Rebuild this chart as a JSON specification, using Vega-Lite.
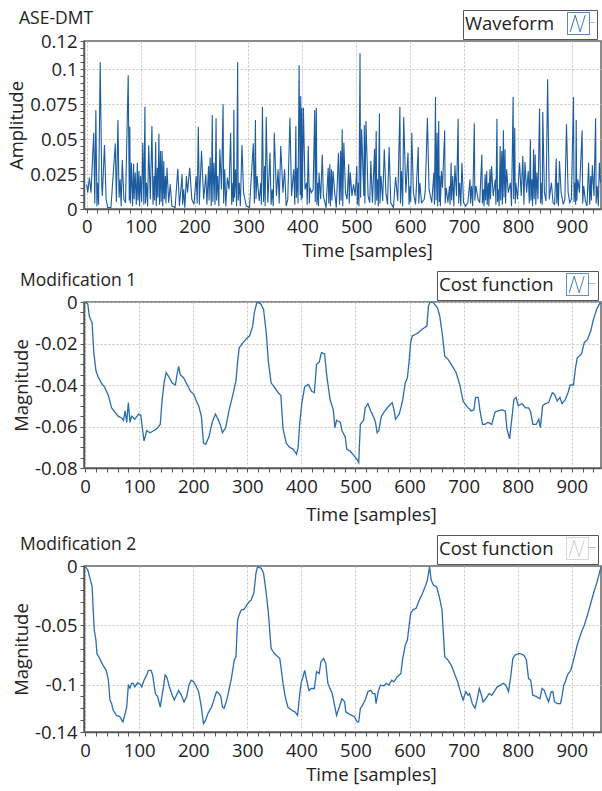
{
  "$schema": "https://vega.github.io/schema/vega-lite/v6.json",
  "padding": {"left": 6, "top": 8, "right": 0, "bottom": 0},
  "background": "white",
  "spacing": 8,
  "config": {
    "font": "Open Sans",
    "view": {"stroke": "#666", "strokeWidth": 1.5},
    "title": {"font": "Open Sans", "fontSize": 17.5, "fontWeight": "normal", "color": "#222", "anchor": "start", "frame": "bounds"},
    "axis": {"labelFont": "Open Sans", "labelFontSize": 18.5, "labelColor": "#222", "titleFont": "Open Sans", "titleFontSize": 18.5, "titleFontWeight": "normal", "titleColor": "#222", "domainColor": "#555", "domainWidth": 1.5, "tickColor": "#555", "tickSize": 4, "gridColor": "#c4c4c4", "gridDash": [2, 2], "labelOverlap": false, "labelBound": false, "labelFlush": false},
    "legend": {"titleFont": "Open Sans", "titleFontSize": 18.5, "titleFontWeight": "normal", "titleColor": "#222", "strokeColor": "#555", "fillColor": "white", "padding": 2, "cornerRadius": 0, "titleOrient": "left", "titlePadding": 12, "labelExpr": "''", "labelOffset": 0, "labelFontSize": 1, "symbolSize": 484, "symbolStrokeWidth": 1, "symbolFillColor": "transparent", "symbolType": "M-1,-1H1V1H-1Z M-0.75,0.75L-0.3,-0.75L0.15,0.75L0.6,-0.75"}
  },
  "datasets": {
    "wave": [
      {"t":0,"v":0.0176},{"t":2,"v":0.0117},{"t":5,"v":0.0224},{"t":8,"v":0.0117},{"t":13,"v":0.0545},{"t":15,"v":0.004},{"t":17,"v":0.0707},{"t":19,"v":0.002},{"t":20,"v":0.0188},{"t":22,"v":0.003},{"t":25,"v":0.105},{"t":28,"v":0.0164},{"t":29,"v":0.0093},{"t":33,"v":0.0457},{"t":36,"v":0.0069},{"t":39,"v":0.001},{"t":45,"v":0.001},{"t":53,"v":0.0467},{"t":55,"v":0.005},{"t":58,"v":0.0636},{"t":60,"v":0.008},{"t":62,"v":0.0212},{"t":64,"v":0.002},{"t":66,"v":0.035},{"t":69,"v":0.0069},{"t":72,"v":0.0045},{"t":77,"v":0.0955},{"t":79,"v":0.006},{"t":80,"v":0.0588},{"t":81,"v":0.004},{"t":83,"v":0.0331},{"t":85,"v":0.002},{"t":87,"v":0.0324},{"t":88,"v":0.007},{"t":90,"v":0.026},{"t":92,"v":0.003},{"t":94,"v":0.0331},{"t":95,"v":0.006},{"t":97,"v":0.0271},{"t":98,"v":0.002},{"t":100,"v":0.0236},{"t":102,"v":0.005},{"t":104,"v":0.0474},{"t":106,"v":0.003},{"t":108,"v":0.0731},{"t":109,"v":0.004},{"t":111,"v":0.0188},{"t":113,"v":0.002},{"t":115,"v":0.0455},{"t":118,"v":0.0069},{"t":121,"v":0.0593},{"t":123,"v":0.003},{"t":125,"v":0.0236},{"t":126,"v":0.006},{"t":128,"v":0.0479},{"t":129,"v":0.002},{"t":131,"v":0.0295},{"t":132,"v":0.008},{"t":134,"v":0.0538},{"t":135,"v":0.003},{"t":137,"v":0.0414},{"t":138,"v":0.005},{"t":140,"v":0.0414},{"t":141,"v":0.002},{"t":143,"v":0.0343},{"t":144,"v":0.007},{"t":146,"v":0.0236},{"t":147,"v":0.004},{"t":149,"v":0.0295},{"t":152,"v":0.0045},{"t":155,"v":0.0176},{"t":158,"v":0.0021},{"t":164,"v":0.001},{"t":169,"v":0.0288},{"t":172,"v":0.0021},{"t":177,"v":0.0248},{"t":178,"v":0.003},{"t":180,"v":0.014},{"t":182,"v":0.001},{"t":185,"v":0.0236},{"t":187,"v":0.0117},{"t":191,"v":0.0295},{"t":195,"v":0.0069},{"t":199,"v":0.0033},{"t":203,"v":0.0236},{"t":205,"v":0.004},{"t":207,"v":0.0588},{"t":209,"v":0.003},{"t":210,"v":0.014},{"t":213,"v":0.0414},{"t":217,"v":0.0069},{"t":221,"v":0.0248},{"t":223,"v":0.003},{"t":226,"v":0.0307},{"t":227,"v":0.006},{"t":229,"v":0.0367},{"t":231,"v":0.002},{"t":233,"v":0.0671},{"t":234,"v":0.005},{"t":236,"v":0.0331},{"t":238,"v":0.003},{"t":240,"v":0.0648},{"t":241,"v":0.006},{"t":243,"v":0.0236},{"t":245,"v":0.002},{"t":247,"v":0.0426},{"t":250,"v":0.014},{"t":253,"v":0.0748},{"t":254,"v":0.004},{"t":256,"v":0.0283},{"t":258,"v":0.002},{"t":261,"v":0.0224},{"t":264,"v":0.014},{"t":267,"v":0.0545},{"t":269,"v":0.003},{"t":271,"v":0.0188},{"t":272,"v":0.005},{"t":273,"v":0.0707},{"t":274,"v":0.008},{"t":276,"v":0.0283},{"t":278,"v":0.002},{"t":280,"v":0.105},{"t":281,"v":0.006},{"t":283,"v":0.0188},{"t":285,"v":0.002},{"t":288,"v":0.0457},{"t":291,"v":0.0117},{"t":296,"v":0.0021},{"t":302,"v":0.001},{"t":309,"v":0.0469},{"t":311,"v":0.004},{"t":313,"v":0.0636},{"t":314,"v":0.007},{"t":316,"v":0.0236},{"t":320,"v":0.0057},{"t":323,"v":0.0188},{"t":324,"v":0.003},{"t":326,"v":0.0731},{"t":328,"v":0.005},{"t":330,"v":0.0307},{"t":331,"v":0.002},{"t":333,"v":0.0657},{"t":336,"v":0.0045},{"t":340,"v":0.0402},{"t":342,"v":0.003},{"t":344,"v":0.014},{"t":346,"v":0.002},{"t":348,"v":0.0545},{"t":352,"v":0.0093},{"t":355,"v":0.0283},{"t":357,"v":0.004},{"t":360,"v":0.045},{"t":364,"v":0.0117},{"t":367,"v":0.0283},{"t":370,"v":0.0021},{"t":373,"v":0.0069},{"t":377,"v":0.0652},{"t":380,"v":0.0093},{"t":384,"v":0.0283},{"t":386,"v":0.003},{"t":388,"v":0.0593},{"t":389,"v":0.008},{"t":391,"v":0.0295},{"t":392,"v":0.004},{"t":394,"v":0.1026},{"t":396,"v":0.01},{"t":397,"v":0.0807},{"t":398,"v":0.006},{"t":399,"v":0.0724},{"t":400,"v":0.008},{"t":402,"v":0.0724},{"t":405,"v":0.014},{"t":408,"v":0.0188},{"t":409,"v":0.003},{"t":411,"v":0.045},{"t":413,"v":0.004},{"t":414,"v":0.0152},{"t":417,"v":0.0117},{"t":420,"v":0.014},{"t":423,"v":0.0707},{"t":424,"v":0.005},{"t":426,"v":0.0724},{"t":427,"v":0.003},{"t":429,"v":0.0188},{"t":430,"v":0.002},{"t":431,"v":0.026},{"t":434,"v":0.0069},{"t":437,"v":0.039},{"t":439,"v":0.0093},{"t":444,"v":0.001},{"t":448,"v":0.0295},{"t":449,"v":0.004},{"t":451,"v":0.0319},{"t":452,"v":0.002},{"t":454,"v":0.0283},{"t":455,"v":0.006},{"t":457,"v":0.0271},{"t":460,"v":0.0117},{"t":463,"v":0.001},
      {"t":467,"v":0.0402},{"t":469,"v":0.003},{"t":471,"v":0.0414},{"t":472,"v":0.006},{"t":474,"v":0.0569},{"t":475,"v":0.002},{"t":477,"v":0.0474},{"t":480,"v":0.0117},{"t":483,"v":0.0069},{"t":486,"v":0.0319},{"t":487,"v":0.004},{"t":489,"v":0.026},{"t":492,"v":0.0093},{"t":495,"v":0.0176},{"t":498,"v":0.0093},{"t":501,"v":0.0307},{"t":502,"v":0.003},{"t":504,"v":0.0188},{"t":505,"v":0.002},{"t":507,"v":0.1112},{"t":508,"v":0.008},{"t":510,"v":0.0569},{"t":514,"v":0.0093},{"t":515,"v":0.0598},{"t":516,"v":0.004},{"t":518,"v":0.0629},{"t":522,"v":0.0093},{"t":525,"v":0.0045},{"t":527,"v":0.0343},{"t":530,"v":0.0045},{"t":534,"v":0.0431},{"t":535,"v":0.003},{"t":537,"v":0.0557},{"t":538,"v":0.006},{"t":540,"v":0.0212},{"t":541,"v":0.002},{"t":543,"v":0.0683},{"t":544,"v":0.004},{"t":546,"v":0.0236},{"t":549,"v":0.0057},{"t":552,"v":0.0426},{"t":555,"v":0.0117},{"t":558,"v":0.0033},{"t":561,"v":0.0443},{"t":564,"v":0.0045},{"t":569,"v":0.001},{"t":573,"v":0.0229},{"t":577,"v":0.0057},{"t":581,"v":0.0731},{"t":582,"v":0.004},{"t":584,"v":0.0271},{"t":586,"v":0.002},{"t":588,"v":0.0657},{"t":592,"v":0.0117},{"t":596,"v":0.0402},{"t":598,"v":0.003},{"t":600,"v":0.0164},{"t":601,"v":0.005},{"t":603,"v":0.0545},{"t":606,"v":0.0117},{"t":610,"v":0.0033},{"t":615,"v":0.0443},{"t":616,"v":0.004},{"t":618,"v":0.0188},{"t":621,"v":0.0045},{"t":626,"v":0.0069},{"t":628,"v":0.0129},{"t":632,"v":0.0652},{"t":635,"v":0.014},{"t":640,"v":0.0045},{"t":644,"v":0.026},{"t":645,"v":0.003},{"t":647,"v":0.08},{"t":648,"v":0.006},{"t":650,"v":0.0545},{"t":651,"v":0.002},{"t":653,"v":0.0629},{"t":654,"v":0.005},{"t":655,"v":0.0236},{"t":656,"v":0.002},{"t":658,"v":0.0271},{"t":660,"v":0.0152},{"t":664,"v":0.0562},{"t":665,"v":0.004},{"t":667,"v":0.0152},{"t":670,"v":0.0045},{"t":673,"v":0.0164},{"t":674,"v":0.003},{"t":676,"v":0.0331},{"t":677,"v":0.006},{"t":679,"v":0.0236},{"t":681,"v":0.002},{"t":683,"v":0.0312},{"t":686,"v":0.0093},{"t":689,"v":0.0645},{"t":690,"v":0.004},{"t":692,"v":0.0188},{"t":694,"v":0.002},{"t":696,"v":0.0331},{"t":699,"v":0.0045},{"t":703,"v":0.0021},{"t":707,"v":0.0045},{"t":711,"v":0.0212},{"t":712,"v":0.004},{"t":714,"v":0.0164},{"t":716,"v":0.002},{"t":719,"v":0.0612},{"t":720,"v":0.006},{"t":722,"v":0.0164},{"t":726,"v":0.0069},{"t":729,"v":0.0045},{"t":733,"v":0.039},{"t":734,"v":0.004},{"t":736,"v":0.014},{"t":737,"v":0.002},{"t":739,"v":0.0248},{"t":740,"v":0.006},{"t":742,"v":0.0271},{"t":743,"v":0.003},{"t":745,"v":0.0188},{"t":746,"v":0.002},{"t":748,"v":0.0283},{"t":749,"v":0.007},{"t":751,"v":0.0307},{"t":754,"v":0.0093},{"t":758,"v":0.0212},{"t":759,"v":0.003},{"t":761,"v":0.0645},{"t":762,"v":0.005},{"t":764,"v":0.014},{"t":765,"v":0.002},{"t":767,"v":0.045},{"t":768,"v":0.006},{"t":770,"v":0.0414},{"t":771,"v":0.003},{"t":773,"v":0.0562},{"t":774,"v":0.008},{"t":776,"v":0.0426},{"t":777,"v":0.004},{"t":779,"v":0.0283},{"t":782,"v":0.0117},{"t":786,"v":0.0188},{"t":788,"v":0.002},{"t":791,"v":0.08},{"t":792,"v":0.007},{"t":794,"v":0.0581},{"t":795,"v":0.004},{"t":796,"v":0.0188},{"t":799,"v":0.0069},{"t":803,"v":0.0331},{"t":806,"v":0.0093},{"t":809,"v":0.0379},{"t":811,"v":0.003},{"t":813,"v":0.0336},{"t":816,"v":0.0117},{"t":819,"v":0.0271},{"t":821,"v":0.004},{"t":823,"v":0.0498},{"t":824,"v":0.006},{"t":826,"v":0.0212},{"t":827,"v":0.002},{"t":829,"v":0.0426},{"t":830,"v":0.007},{"t":832,"v":0.039},{"t":833,"v":0.003},{"t":835,"v":0.026},{"t":837,"v":0.0069},{"t":840,"v":0.0717},{"t":842,"v":0.004},{"t":844,"v":0.0188},{"t":845,"v":0.003},{"t":846,"v":0.0693},{"t":849,"v":0.0117},{"t":852,"v":0.0057},{"t":855,"v":0.0926},{"t":858,"v":0.0069},{"t":862,"v":0.0188},{"t":865,"v":0.0045},{"t":868,"v":0.0033},{"t":871,"v":0.036},{"t":872,"v":0.004},{"t":874,"v":0.0188},{"t":875,"v":0.002},{"t":877,"v":0.0343},{"t":880,"v":0.0117},{"t":884,"v":0.0033},{"t":887,"v":0.0069},{"t":890,"v":0.0605},{"t":893,"v":0.0117},{"t":896,"v":0.0045},{"t":899,"v":0.0069},{"t":903,"v":0.08},{"t":904,"v":0.005},{"t":906,"v":0.0188},{"t":907,"v":0.003},{"t":908,"v":0.0636},{"t":909,"v":0.006},{"t":911,"v":0.0212},{"t":914,"v":0.0117},{"t":919,"v":0.0562},{"t":920,"v":0.004},{"t":922,"v":0.0164},{"t":925,"v":0.0057},{"t":928,"v":0.0021},{"t":931,"v":0.0331},{"t":933,"v":0.003},{"t":935,"v":0.0236},{"t":936,"v":0.006},{"t":938,"v":0.0312},{"t":941,"v":0.0093},{"t":944,"v":0.0648},{"t":945,"v":0.004},{"t":947,"v":0.0164},{"t":949,"v":0.002},{"t":951,"v":0.0331},{"t":953,"v":0.0188}
    ],
    "mod1": [
      {"t":0,"v":0},{"t":5,"v":-0.001},{"t":8,"v":-0.007},{"t":13,"v":-0.01},{"t":16,"v":-0.024},{"t":20,"v":-0.033},{"t":24,"v":-0.036},{"t":30,"v":-0.039},{"t":36,"v":-0.041},{"t":43,"v":-0.045},{"t":49,"v":-0.051},{"t":55,"v":-0.053},{"t":61,"v":-0.055},{"t":68,"v":-0.056},{"t":71,"v":-0.057},{"t":74,"v":-0.0525},{"t":77,"v":-0.058},{"t":80,"v":-0.0485},{"t":83,"v":-0.058},{"t":86,"v":-0.055},{"t":92,"v":-0.0565},{"t":99,"v":-0.054},{"t":103,"v":-0.0546},{"t":107,"v":-0.063},{"t":109,"v":-0.067},{"t":114,"v":-0.062},{"t":120,"v":-0.063},{"t":127,"v":-0.062},{"t":133,"v":-0.061},{"t":139,"v":-0.059},{"t":142,"v":-0.0485},{"t":146,"v":-0.039},{"t":150,"v":-0.034},{"t":154,"v":-0.0357},{"t":161,"v":-0.039},{"t":167,"v":-0.04},{"t":170,"v":-0.035},{"t":173,"v":-0.031},{"t":176,"v":-0.035},{"t":182,"v":-0.0365},{"t":189,"v":-0.04},{"t":195,"v":-0.043},{"t":201,"v":-0.0445},{"t":207,"v":-0.0485},{"t":210,"v":-0.05},{"t":215,"v":-0.055},{"t":219,"v":-0.068},{"t":223,"v":-0.0686},{"t":229,"v":-0.065},{"t":235,"v":-0.058},{"t":241,"v":-0.054},{"t":246,"v":-0.0565},{"t":251,"v":-0.06},{"t":254,"v":-0.063},{"t":260,"v":-0.0605},{"t":266,"v":-0.0525},{"t":273,"v":-0.045},{"t":279,"v":-0.038},{"t":282,"v":-0.029},{"t":285,"v":-0.022},{"t":291,"v":-0.02},{"t":297,"v":-0.018},{"t":304,"v":-0.0164},{"t":310,"v":-0.0116},{"t":313,"v":-0.005},{"t":318,"v":0},{"t":325,"v":-0.001},{"t":330,"v":-0.0035},{"t":335,"v":-0.0148},{"t":339,"v":-0.029},{"t":344,"v":-0.039},{"t":350,"v":-0.041},{"t":357,"v":-0.0437},{"t":362,"v":-0.045},{"t":366,"v":-0.061},{"t":372,"v":-0.068},{"t":378,"v":-0.07},{"t":385,"v":-0.071},{"t":391,"v":-0.0734},{"t":394,"v":-0.07},{"t":397,"v":-0.058},{"t":401,"v":-0.0485},{"t":406,"v":-0.041},{"t":413,"v":-0.0397},{"t":419,"v":-0.043},{"t":424,"v":-0.0437},{"t":428,"v":-0.03},{"t":433,"v":-0.029},{"t":437,"v":-0.0244},{"t":443,"v":-0.025},{"t":447,"v":-0.0357},{"t":453,"v":-0.047},{"t":459,"v":-0.052},{"t":462,"v":-0.0606},{"t":465,"v":-0.057},{"t":472,"v":-0.058},
      {"t":475,"v":-0.062},{"t":481,"v":-0.065},{"t":484,"v":-0.071},{"t":490,"v":-0.0718},{"t":497,"v":-0.074},{"t":503,"v":-0.076},{"t":506,"v":-0.0774},{"t":509,"v":-0.059},{"t":515,"v":-0.057},{"t":518,"v":-0.051},{"t":523,"v":-0.049},{"t":528,"v":-0.0525},{"t":534,"v":-0.0557},{"t":537,"v":-0.058},{"t":540,"v":-0.063},{"t":543,"v":-0.062},{"t":548,"v":-0.055},{"t":553,"v":-0.053},{"t":562,"v":-0.05},{"t":568,"v":-0.0485},{"t":571,"v":-0.0517},{"t":574,"v":-0.0565},{"t":581,"v":-0.054},{"t":587,"v":-0.0477},{"t":592,"v":-0.039},{"t":596,"v":-0.0365},{"t":599,"v":-0.029},{"t":602,"v":-0.0196},{"t":605,"v":-0.0164},{"t":615,"v":-0.015},{"t":624,"v":-0.013},{"t":632,"v":-0.0116},{"t":635,"v":-0.002},{"t":638,"v":0},{"t":643,"v":0},{"t":652,"v":-0.003},{"t":656,"v":-0.007},{"t":661,"v":-0.0164},{"t":665,"v":-0.026},{"t":671,"v":-0.0276},{"t":677,"v":-0.03},{"t":686,"v":-0.034},{"t":693,"v":-0.04},{"t":699,"v":-0.0477},{"t":705,"v":-0.05},{"t":714,"v":-0.0525},{"t":719,"v":-0.052},{"t":722,"v":-0.046},{"t":727,"v":-0.046},{"t":730,"v":-0.052},{"t":735,"v":-0.059},{"t":739,"v":-0.059},{"t":745,"v":-0.058},{"t":752,"v":-0.059},{"t":758,"v":-0.053},{"t":764,"v":-0.0525},{"t":770,"v":-0.052},{"t":777,"v":-0.0525},{"t":780,"v":-0.061},{"t":785,"v":-0.066},{"t":789,"v":-0.0565},{"t":793,"v":-0.047},{"t":797,"v":-0.046},{"t":801,"v":-0.05},{"t":808,"v":-0.049},{"t":814,"v":-0.051},{"t":820,"v":-0.051},{"t":824,"v":-0.053},{"t":828,"v":-0.059},{"t":834,"v":-0.059},{"t":839,"v":-0.0565},{"t":842,"v":-0.0606},{"t":846,"v":-0.05},{"t":851,"v":-0.049},{"t":857,"v":-0.0485},{"t":864,"v":-0.0437},{"t":868,"v":-0.0445},{"t":873,"v":-0.0477},{"t":878,"v":-0.046},{"t":882,"v":-0.049},{"t":888,"v":-0.047},{"t":893,"v":-0.0437},{"t":897,"v":-0.04},{"t":903,"v":-0.04},{"t":907,"v":-0.0316},{"t":910,"v":-0.027},{"t":918,"v":-0.025},{"t":923,"v":-0.0196},{"t":929,"v":-0.018},{"t":935,"v":-0.014},{"t":940,"v":-0.0084},{"t":946,"v":-0.0035},{"t":951,"v":-0.001},{"t":954,"v":0}
    ],
    "mod2": [
      {"t":0,"v":0},{"t":5,"v":-0.0034},{"t":10,"v":-0.012},{"t":13,"v":-0.0175},{"t":15,"v":-0.037},{"t":17,"v":-0.054},{"t":20,"v":-0.0625},{"t":22,"v":-0.074},{"t":27,"v":-0.078},{"t":33,"v":-0.0836},{"t":39,"v":-0.088},{"t":43,"v":-0.096},{"t":46,"v":-0.113},{"t":49,"v":-0.116},{"t":52,"v":-0.1217},{"t":58,"v":-0.126},{"t":64,"v":-0.127},{"t":70,"v":-0.1315},{"t":74,"v":-0.1245},{"t":77,"v":-0.119},{"t":80,"v":-0.1005},{"t":83,"v":-0.103},{"t":86,"v":-0.099},{"t":89,"v":-0.099},{"t":92,"v":-0.102},{"t":97,"v":-0.0986},{"t":102,"v":-0.0997},{"t":105,"v":-0.102},{"t":109,"v":-0.0963},{"t":114,"v":-0.092},{"t":117,"v":-0.088},{"t":122,"v":-0.088},{"t":125,"v":-0.092},{"t":130,"v":-0.1076},{"t":134,"v":-0.11},{"t":139,"v":-0.119},{"t":142,"v":-0.11},{"t":145,"v":-0.102},{"t":148,"v":-0.092},{"t":151,"v":-0.0935},{"t":156,"v":-0.102},{"t":161,"v":-0.109},{"t":165,"v":-0.113},{"t":169,"v":-0.109},{"t":173,"v":-0.105},{"t":178,"v":-0.109},{"t":183,"v":-0.1146},{"t":188,"v":-0.11},{"t":192,"v":-0.1005},{"t":196,"v":-0.0963},{"t":201,"v":-0.0977},{"t":206,"v":-0.102},{"t":210,"v":-0.106},{"t":215,"v":-0.119},{"t":219,"v":-0.133},{"t":223,"v":-0.13},{"t":227,"v":-0.1245},{"t":234,"v":-0.119},{"t":238,"v":-0.113},{"t":243,"v":-0.106},{"t":248,"v":-0.1076},{"t":251,"v":-0.11},{"t":254,"v":-0.119},{"t":257,"v":-0.12},{"t":262,"v":-0.113},{"t":266,"v":-0.1048},{"t":271,"v":-0.0935},{"t":276,"v":-0.079},{"t":279,"v":-0.0766},{"t":282,"v":-0.0456},{"t":285,"v":-0.041},{"t":289,"v":-0.037},{"t":294,"v":-0.0366},{"t":301,"v":-0.0315},{"t":307,"v":-0.0287},{"t":312,"v":-0.023},{"t":316,"v":-0.006},{"t":319,"v":-0.0006},{"t":326,"v":-0.002},{"t":330,"v":-0.006},{"t":335,"v":-0.023},{"t":339,"v":-0.04},{"t":344,"v":-0.0696},{"t":350,"v":-0.0738},{"t":360,"v":-0.078},{"t":363,"v":-0.088},{"t":366,"v":-0.099},{"t":370,"v":-0.11},{"t":375,"v":-0.119},{"t":382,"v":-0.1217},{"t":388,"v":-0.123},{"t":393,"v":-0.126},{"t":397,"v":-0.1076},{"t":400,"v":-0.0977},{"t":403,"v":-0.0935},{"t":406,"v":-0.088},{"t":411,"v":-0.099},{"t":414,"v":-0.105},{"t":418,"v":-0.1033},{"t":424,"v":-0.1033},{"t":428,"v":-0.089},{"t":433,"v":-0.0907},{"t":436,"v":-0.081},{"t":441,"v":-0.078},{"t":445,"v":-0.082},{"t":449,"v":-0.099},{"t":453,"v":-0.1033},{"t":457,"v":-0.1076},{"t":462,"v":-0.119},{"t":465,"v":-0.126},{"t":470,"v":-0.119},
      {"t":475,"v":-0.112},{"t":480,"v":-0.1146},{"t":482,"v":-0.123},{"t":487,"v":-0.1245},{"t":493,"v":-0.126},{"t":498,"v":-0.127},{"t":503,"v":-0.1315},{"t":506,"v":-0.1315},{"t":509,"v":-0.12},{"t":513,"v":-0.1174},{"t":518,"v":-0.113},{"t":523,"v":-0.106},{"t":528,"v":-0.1048},{"t":532,"v":-0.1076},{"t":536,"v":-0.1076},{"t":538,"v":-0.116},{"t":542,"v":-0.106},{"t":546,"v":-0.1005},{"t":553,"v":-0.101},{"t":557,"v":-0.099},{"t":562,"v":-0.1005},{"t":567,"v":-0.0963},{"t":571,"v":-0.0977},{"t":577,"v":-0.0935},{"t":584,"v":-0.0907},{"t":587,"v":-0.079},{"t":592,"v":-0.0667},{"t":596,"v":-0.0625},{"t":599,"v":-0.051},{"t":602,"v":-0.04},{"t":607,"v":-0.0366},{"t":612,"v":-0.0358},{"t":618,"v":-0.0287},{"t":624,"v":-0.023},{"t":630,"v":-0.016},{"t":633,"v":-0.0118},{"t":637,"v":-0.0006},{"t":640,"v":-0.0118},{"t":644,"v":-0.016},{"t":650,"v":-0.0175},{"t":655,"v":-0.026},{"t":660,"v":-0.037},{"t":665,"v":-0.0766},{"t":671,"v":-0.0794},{"t":677,"v":-0.0836},{"t":683,"v":-0.0907},{"t":689,"v":-0.0977},{"t":694,"v":-0.106},{"t":699,"v":-0.113},{"t":704,"v":-0.106},{"t":708,"v":-0.109},{"t":711,"v":-0.1076},{"t":716,"v":-0.116},{"t":721,"v":-0.12},{"t":724,"v":-0.1146},{"t":729,"v":-0.1033},{"t":733,"v":-0.109},{"t":736,"v":-0.1146},{"t":741,"v":-0.112},{"t":747,"v":-0.1076},{"t":752,"v":-0.109},{"t":758,"v":-0.1048},{"t":762,"v":-0.102},{"t":768,"v":-0.1005},{"t":773,"v":-0.099},{"t":778,"v":-0.1005},{"t":783,"v":-0.106},{"t":787,"v":-0.0935},{"t":791,"v":-0.078},{"t":795,"v":-0.075},{"t":803,"v":-0.0738},{"t":811,"v":-0.075},{"t":816,"v":-0.079},{"t":820,"v":-0.095},{"t":824,"v":-0.0963},{"t":828,"v":-0.109},{"t":834,"v":-0.11},{"t":841,"v":-0.112},{"t":845,"v":-0.1033},{"t":849,"v":-0.1048},{"t":853,"v":-0.11},{"t":857,"v":-0.1146},{"t":862,"v":-0.106},{"t":865,"v":-0.106},{"t":868,"v":-0.1146},{"t":873,"v":-0.116},{"t":879,"v":-0.116},{"t":882,"v":-0.11},{"t":885,"v":-0.1005},{"t":888,"v":-0.0977},{"t":892,"v":-0.092},{"t":898,"v":-0.088},{"t":904,"v":-0.078},{"t":910,"v":-0.0667},{"t":918,"v":-0.0555},{"t":923,"v":-0.05},{"t":929,"v":-0.0414},{"t":935,"v":-0.0315},{"t":941,"v":-0.0217},{"t":946,"v":-0.0146},{"t":951,"v":-0.006},{"t":954,"v":-0.0006}
    ]
  },
  "resolve": {"scale": {"strokeDash": "independent"}, "legend": {"strokeDash": "independent"}},
  "vconcat": [
    {
      "width": 517, "height": 168,
      "data": {"name": "wave"},
      "title": {"text": "ASE-DMT", "offset": -18, "dx": 12},
      "mark": {"type": "line", "color": "#1c5c9f", "strokeWidth": 1.1, "clip": true},
      "encoding": {
        "x": {"field": "t", "type": "quantitative", "scale": {"domain": [-5, 954], "nice": false, "zero": false},
          "axis": {"title": "Time [samples]", "titleX": 283, "titlePadding": 6, "labelPadding": 4,
            "values": [0,20,40,60,80,100,120,140,160,180,200,220,240,260,280,300,320,340,360,380,400,420,440,460,480,500,520,540,560,580,600,620,640,660,680,700,720,740,760,780,800,820,840,860,880,900,920,940],
            "labelExpr": "datum.value % 100 == 0 ? '' + datum.value : ''",
            "gridOpacity": {"condition": {"test": "datum.value % 100 == 0", "value": 1}, "value": 0}}},
        "y": {"field": "v", "type": "quantitative", "scale": {"domain": [0, 0.12], "nice": false},
          "axis": {"title": "Amplitude", "titleX": -58, "labelPadding": 3,
            "values": [0,0.005,0.01,0.015,0.02,0.025,0.03,0.035,0.04,0.045,0.05,0.055,0.06,0.065,0.07,0.075,0.08,0.085,0.09,0.095,0.1,0.105,0.11,0.115,0.12],
            "labelExpr": "(abs(datum.value*40 - round(datum.value*40)) < 1e-6 || datum.value == 0.12) ? '' + datum.value : ''",
            "gridOpacity": {"condition": {"test": "abs(datum.value*40 - round(datum.value*40)) < 1e-6", "value": 1}, "value": 0}}},
        "strokeDash": {"datum": "Waveform", "scale": {"range": [[1, 0]]},
          "legend": {"orient": "none", "legendX": 379, "legendY": -31, "title": "\u00a0Waveform", "symbolStrokeColor": "#1f63a8"}}
      }
    },
    {
      "width": 517, "height": 166,
      "data": {"name": "mod1"},
      "title": {"text": "Modification 1", "offset": -19, "dx": 8},
      "mark": {"type": "line", "color": "#2a6cb0", "strokeWidth": 1.3, "clip": true},
      "encoding": {
        "x": {"field": "t", "type": "quantitative", "scale": {"domain": [-2, 954], "nice": false, "zero": false},
          "axis": {"title": "Time [samples]", "titleX": 287, "titlePadding": 10, "labelPadding": 5,
            "values": [0,20,40,60,80,100,120,140,160,180,200,220,240,260,280,300,320,340,360,380,400,420,440,460,480,500,520,540,560,580,600,620,640,660,680,700,720,740,760,780,800,820,840,860,880,900,920,940],
            "labelExpr": "datum.value % 100 == 0 ? '' + datum.value : ''",
            "gridOpacity": {"condition": {"test": "datum.value % 100 == 0", "value": 1}, "value": 0}}},
        "y": {"field": "v", "type": "quantitative", "scale": {"domain": [-0.08, 0], "nice": false, "zero": false},
          "axis": {"title": "Magnitude", "titleX": -53, "labelPadding": 3,
            "values": [0,-0.005,-0.01,-0.015,-0.02,-0.025,-0.03,-0.035,-0.04,-0.045,-0.05,-0.055,-0.06,-0.065,-0.07,-0.075,-0.08],
            "labelExpr": "abs(datum.value*50 - round(datum.value*50)) < 1e-6 ? '' + datum.value : ''",
            "gridOpacity": {"condition": {"test": "abs(datum.value*50 - round(datum.value*50)) < 1e-6", "value": 1}, "value": 0}}},
        "strokeDash": {"datum": "Cost function", "scale": {"range": [[1, 0]]},
          "legend": {"orient": "none", "legendX": 353, "legendY": -31, "title": "\u00a0Cost function", "symbolStrokeColor": "#2a6cb0"}}
      }
    },
    {
      "width": 517, "height": 166,
      "data": {"name": "mod2"},
      "title": {"text": "Modification 2", "offset": -19, "dx": 8},
      "mark": {"type": "line", "color": "#2a6cb0", "strokeWidth": 1.3, "clip": true},
      "encoding": {
        "x": {"field": "t", "type": "quantitative", "scale": {"domain": [-2, 954], "nice": false, "zero": false},
          "axis": {"title": "Time [samples]", "titleX": 287, "titlePadding": 6, "labelPadding": 5,
            "values": [0,20,40,60,80,100,120,140,160,180,200,220,240,260,280,300,320,340,360,380,400,420,440,460,480,500,520,540,560,580,600,620,640,660,680,700,720,740,760,780,800,820,840,860,880,900,920,940],
            "labelExpr": "datum.value % 100 == 0 ? '' + datum.value : ''",
            "gridOpacity": {"condition": {"test": "datum.value % 100 == 0", "value": 1}, "value": 0}}},
        "y": {"field": "v", "type": "quantitative", "scale": {"domain": [-0.14, 0], "nice": false, "zero": false},
          "axis": {"title": "Magnitude", "titleX": -53, "labelPadding": 3,
            "values": [0,-0.01,-0.02,-0.03,-0.04,-0.05,-0.06,-0.07,-0.08,-0.09,-0.1,-0.11,-0.12,-0.13,-0.14],
            "labelExpr": "(datum.value == 0 || datum.value == -0.05 || datum.value == -0.1 || datum.value == -0.14) ? '' + datum.value : ''",
            "gridOpacity": {"condition": {"test": "datum.value == -0.05 || datum.value == -0.1", "value": 1}, "value": 0}}},
        "strokeDash": {"datum": "Cost function", "scale": {"range": [[1, 0]]},
          "legend": {"orient": "none", "legendX": 353, "legendY": -31, "title": "\u00a0Cost function", "symbolStrokeColor": "#c8c8c8"}}
      }
    }
  ]
}
